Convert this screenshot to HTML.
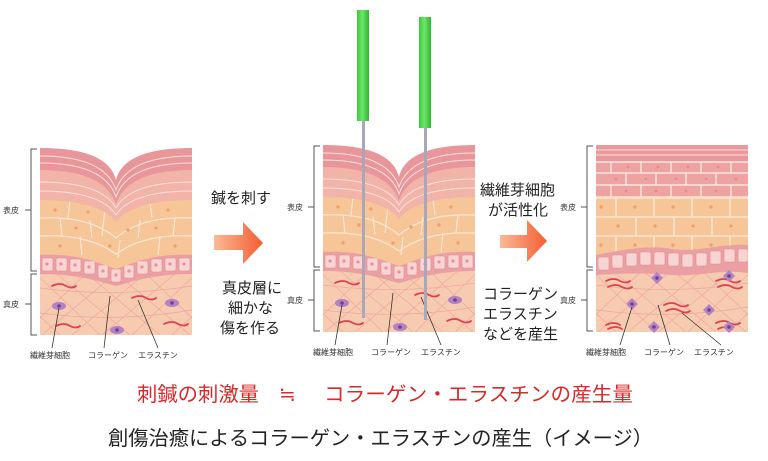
<!DOCTYPE html>
<html><head><meta charset="utf-8"><style>
html,body{margin:0;padding:0;background:#fff;}
svg{display:block;}
text{font-family:"Liberation Sans","Noto Sans CJK JP",sans-serif;}
</style></head><body>
<svg width="768" height="461" viewBox="0 0 768 461" xmlns="http://www.w3.org/2000/svg">
<defs>
<linearGradient id="ar" x1="0" x2="1" y1="0" y2="0"><stop offset="0" stop-color="#fbb995"/><stop offset="1" stop-color="#f45d33"/></linearGradient>
<linearGradient id="gn" x1="0" x2="1"><stop offset="0" stop-color="#3cc83c"/><stop offset="0.45" stop-color="#6ee66a"/><stop offset="1" stop-color="#2fb52f"/></linearGradient>
<clipPath id="cp"><rect x="0" y="0" width="152" height="187"/></clipPath>
<g id="dermis">
 <rect x="0" y="110" width="152" height="77" fill="#f6cbb0"/>
 <g stroke="#ee9da0" stroke-width="0.7" fill="none" opacity="0.8">
  <path d="M-10,120 L60,187 M10,120 L90,187 M40,120 L120,187 M70,120 L150,187 M100,120 L170,187 M-20,150 L20,187"/>
  <path d="M162,120 L92,187 M142,120 L62,187 M112,120 L32,187 M82,120 L2,187 M52,120 L-18,187 M172,150 L132,187"/>
  <path d="M0,140 Q76,150 152,138 M0,165 Q76,175 152,162"/>
 </g>
</g>
<g id="vpanel">
 <g clip-path="url(#cp)">
 <use href="#dermis"/>
 <path d="M0,126 C40,126 60,134 76,138 C92,134 112,126 152,126 L152,0 L0,0Z" fill="#ea9fa3"/>
 <g fill="#f8d4d2" stroke="#e48c92" stroke-width="0.6">
  <rect x="2" y="110" width="11" height="13" rx="2"/><rect x="16" y="110" width="11" height="13" rx="2"/><rect x="30" y="111" width="11" height="13" rx="2"/><rect x="44" y="113" width="11" height="13" rx="2"/><rect x="58" y="117" width="10" height="13" rx="2"/><rect x="71" y="121" width="10" height="13" rx="2"/><rect x="84" y="117" width="10" height="13" rx="2"/><rect x="97" y="113" width="11" height="13" rx="2"/><rect x="111" y="111" width="11" height="13" rx="2"/><rect x="125" y="110" width="11" height="13" rx="2"/><rect x="139" y="110" width="11" height="13" rx="2"/>
 </g>
 <g fill="#ec8f9c"><circle cx="7" cy="116" r="1.6"/><circle cx="21" cy="116" r="1.6"/><circle cx="35" cy="117" r="1.6"/><circle cx="49" cy="119" r="1.6"/><circle cx="63" cy="123" r="1.6"/><circle cx="76" cy="127" r="1.6"/><circle cx="89" cy="123" r="1.6"/><circle cx="102" cy="119" r="1.6"/><circle cx="116" cy="117" r="1.6"/><circle cx="130" cy="116" r="1.6"/><circle cx="144" cy="116" r="1.6"/></g>
 <path d="M0,107 C40,105 60,116 76,121 C92,116 112,105 152,107 L152,0 L0,0Z" fill="#f6c598"/>
 <g stroke="#fbe6d3" stroke-width="1.2" fill="none">
  <path d="M0,70 C40,68 62,78 76,90 C90,78 112,68 152,70"/>
  <path d="M0,88 C40,86 62,96 76,106 C90,96 112,86 152,88"/>
  <path d="M30,52 L28,70 M65,60 L62,88 M110,54 L112,70 M20,70 L22,88 M50,72 L52,90 M100,72 L98,90 M135,70 L133,88 M40,88 L42,107 M80,92 L78,110 M120,88 L118,107"/>
 </g>
 <g fill="#ef9e6e"><circle cx="15" cy="62" r="1.6"/><circle cx="48" cy="64" r="1.6"/><circle cx="128" cy="62" r="1.6"/><circle cx="36" cy="80" r="1.6"/><circle cx="116" cy="80" r="1.6"/><circle cx="70" cy="98" r="1.6"/><circle cx="20" cy="98" r="1.6"/><circle cx="135" cy="98" r="1.6"/><circle cx="88" cy="82" r="1.6"/></g>
 <path d="M0,52 C40,52 66,60 76,74 C86,60 112,52 152,52 L152,0 L0,0Z" fill="#f2b3a8"/>
 <path d="M0,22 C40,22 68,32 76,56 C84,32 112,22 152,22 L152,0 L0,0Z" fill="#e9969a"/>
 <g stroke="#fbe1dc" stroke-width="1" fill="none">
  <path d="M0,8 C40,8 68,18 76,42 C84,18 112,8 152,8"/>
  <path d="M0,15 C40,15 68,25 76,49 C84,25 112,15 152,15"/>
  <path d="M0,34 C40,34 66,42 76,60 C86,42 112,34 152,34"/>
  <path d="M0,43 C40,43 66,51 76,67 C86,51 112,43 152,43"/>
 </g>
 <path d="M0,0 C40,0 70,8 76,32 C82,8 112,0 152,0 L152,-5 L0,-5Z" fill="#fff"/>
 </g>
 <g fill="none" stroke="#e0404e" stroke-width="1.8" stroke-linecap="round">
  <path d="M12,138 q8,-4 14,0 q6,3 10,0"/><path d="M92,150 q8,-4 14,0 q6,3 10,0"/><path d="M16,178 q8,-4 14,0 q6,3 10,0"/><path d="M124,176 q8,-4 14,0 q6,3 10,0"/>
 </g>
 <g fill="#b283c4"><ellipse cx="19" cy="158" rx="7" ry="4"/><ellipse cx="132" cy="155" rx="7" ry="4"/><ellipse cx="77" cy="182" rx="7" ry="4"/></g>
 <g fill="#7a3d8c"><circle cx="19" cy="158" r="1.8"/><circle cx="132" cy="155" r="1.8"/><circle cx="77" cy="182" r="1.8"/></g>
 <g stroke="#333" stroke-width="0.8" fill="none"><path d="M19,160 L12,200 M70,148 L64,200 M98,152 L118,200"/></g>
</g>
</defs>

<g stroke="#555" stroke-width="1" fill="none">
 <path d="M37,149 H31 V271 H37 M31,210 H25 M37,274 H31 V335 H37 M31,304 H25"/>
 <path d="M320,146 H314 V267 H320 M314,207 H308 M320,270 H314 V331 H320 M314,300 H308"/>
 <path d="M593,146 H587 V267 H593 M587,207 H581 M593,270 H587 V331 H593 M587,300 H581"/>
</g>
<g font-size="8" fill="#333">
 <text x="3" y="213">表皮</text><text x="3" y="307">真皮</text>
 <text x="287" y="210">表皮</text><text x="287" y="303">真皮</text>
 <text x="560" y="210">表皮</text><text x="560" y="303">真皮</text>
</g>

<g transform="translate(40,148)"><use href="#vpanel"/></g>
<g transform="translate(323,145)"><use href="#vpanel"/></g>
<g font-size="8" fill="#333">
 <text x="30" y="358">繊維芽細胞</text><text x="88" y="358">コラーゲン</text><text x="138" y="358">エラスチン</text>
 <text x="313" y="355">繊維芽細胞</text><text x="371" y="355">コラーゲン</text><text x="421" y="355">エラスチン</text>
 <text x="586" y="355">繊維芽細胞</text><text x="644" y="355">コラーゲン</text><text x="694" y="355">エラスチン</text>
</g>

<rect x="362" y="118" width="3" height="200" fill="#a8a8b8"/>
<rect x="424" y="125" width="3" height="195" fill="#a8a8b8"/>
<rect x="357" y="10" width="12" height="111" fill="url(#gn)"/>
<rect x="419" y="17" width="12" height="111" fill="url(#gn)"/>

<g transform="translate(596,145)">
 <g clip-path="url(#cp)">
 <use href="#dermis"/>
 <rect x="0" y="0" width="152" height="16" fill="#e9989b"/>
 <g stroke="#fbe1dc" stroke-width="1"><path d="M0,5 H152 M0,10 H152"/></g>
 <rect x="0" y="16" width="152" height="36" fill="#eea3a2"/>
 <g stroke="#fbe4df" stroke-width="1.5"><path d="M0,17 H152 M0,28 H152 M0,40 H152 M0,52 H152"/>
  <path d="M15,17 V28 M45,17 V28 M75,17 V28 M105,17 V28 M135,17 V28 M30,28 V40 M60,28 V40 M90,28 V40 M120,28 V40 M15,40 V52 M45,40 V52 M75,40 V52 M105,40 V52 M135,40 V52"/></g>
 <rect x="0" y="52" width="152" height="60" fill="#f6c598"/>
 <g stroke="#fbe6d3" stroke-width="1.5"><path d="M0,53 H152 M0,72 H152 M0,91 H152"/>
  <path d="M20,53 V72 M58,53 V72 M96,53 V72 M134,53 V72 M40,72 V91 M78,72 V91 M116,72 V91 M20,91 V110 M58,91 V110 M96,91 V110 M134,91 V110"/></g>
 <g fill="#ef9e6e"><circle cx="5" cy="62" r="1.6"/><circle cx="39" cy="62" r="1.6"/><circle cx="77" cy="62" r="1.6"/><circle cx="115" cy="62" r="1.6"/><circle cx="22" cy="81" r="1.6"/><circle cx="59" cy="81" r="1.6"/><circle cx="97" cy="81" r="1.6"/><circle cx="135" cy="81" r="1.6"/><circle cx="5" cy="100" r="1.6"/><circle cx="39" cy="100" r="1.6"/><circle cx="77" cy="100" r="1.6"/><circle cx="115" cy="100" r="1.6"/></g>
 <g fill="#e38b92"><circle cx="20" cy="34" r="1.4"/><circle cx="50" cy="34" r="1.4"/><circle cx="80" cy="34" r="1.4"/><circle cx="110" cy="34" r="1.4"/><circle cx="140" cy="34" r="1.4"/><circle cx="30" cy="46" r="1.4"/><circle cx="60" cy="46" r="1.4"/><circle cx="90" cy="46" r="1.4"/><circle cx="120" cy="46" r="1.4"/><circle cx="32" cy="22" r="1.4"/><circle cx="62" cy="22" r="1.4"/><circle cx="92" cy="22" r="1.4"/><circle cx="122" cy="22" r="1.4"/></g>
 <path d="M0,110 C30,104 55,100 76,104 C100,108 125,98 152,100 L152,128 C125,124 100,132 76,130 C55,128 30,128 0,130Z" fill="#ea9fa3"/>
 <g fill="#f8d4d2" stroke="#e48c92" stroke-width="0.6">
  <rect x="2" y="112" width="11" height="13" rx="2"/><rect x="16" y="110" width="11" height="13" rx="2"/><rect x="30" y="108" width="11" height="13" rx="2"/><rect x="44" y="107" width="11" height="13" rx="2"/><rect x="58" y="107" width="11" height="13" rx="2"/><rect x="72" y="108" width="11" height="13" rx="2"/><rect x="86" y="109" width="11" height="13" rx="2"/><rect x="100" y="108" width="11" height="13" rx="2"/><rect x="114" y="106" width="11" height="13" rx="2"/><rect x="128" y="104" width="11" height="13" rx="2"/><rect x="142" y="104" width="10" height="13" rx="2"/>
 </g>
 </g>
 <g fill="none" stroke="#e0404e" stroke-width="1.8" stroke-linecap="round">
  <path d="M10,136 q8,-4 14,0 q6,3 10,0 M12,142 q8,-4 14,0 q6,3 10,0"/>
  <path d="M120,136 q8,-4 14,0 q6,3 10,0 M122,142 q8,-4 14,0 q6,3 10,0"/>
  <path d="M68,160 q8,-4 14,0 q6,3 10,0 M70,166 q8,-4 14,0 q6,3 10,0"/>
  <path d="M10,180 q8,-4 14,0 M12,184 q8,-4 14,0 M120,178 q8,-4 14,0 q6,3 10,0 M122,184 q8,-4 14,0"/>
 </g>
 <g fill="#b283c4"><path d="M55,133 l6,-6 l6,6 l-6,6z"/><path d="M127,131 l6,-6 l6,6 l-6,6z"/><path d="M30,159 l6,-6 l6,6 l-6,6z"/><path d="M107,165 l6,-6 l6,6 l-6,6z"/><path d="M52,182 l6,-6 l6,6 l-6,6z"/><path d="M127,182 l6,-6 l6,6 l-6,6z"/></g>
 <g fill="#7a3d8c"><circle cx="61" cy="133" r="1.8"/><circle cx="133" cy="131" r="1.8"/><circle cx="36" cy="159" r="1.8"/><circle cx="113" cy="165" r="1.8"/><circle cx="58" cy="182" r="1.8"/><circle cx="133" cy="182" r="1.8"/></g>
 <g stroke="#333" stroke-width="0.8" fill="none"><path d="M36,162 L24,200 M62,160 L74,200 M86,168 L125,200"/></g>
</g>

<path d="M214,235 H243 V222 L263,243 L243,264 V250 H214Z" fill="url(#ar)"/>
<path d="M500,235 H527 V220 L547,241 L527,262 V248 H500Z" fill="url(#ar)"/>

<g font-size="15" fill="#222">
 <text x="211" y="203">鍼を刺す</text>
 <text x="222" y="293">真皮層に</text>
 <text x="228" y="313">細かな</text>
 <text x="220" y="333">傷を作る</text>
 <text x="480" y="195">繊維芽細胞</text>
 <text x="488" y="215">が活性化</text>
 <text x="483" y="299">コラーゲン</text>
 <text x="483" y="319">エラスチン</text>
 <text x="483" y="339">などを産生</text>
</g>

<g font-size="20" fill="#d82828">
 <text x="137" y="401" textLength="122" lengthAdjust="spacingAndGlyphs">刺鍼の刺激量</text>
 <text x="279" y="401">≒</text>
 <text x="324" y="401" textLength="309" lengthAdjust="spacingAndGlyphs">コラーゲン・エラスチンの産生量</text>
</g>
<text x="108" y="445" font-size="20" fill="#222" textLength="545" lengthAdjust="spacingAndGlyphs">創傷治癒によるコラーゲン・エラスチンの産生（イメージ）</text>
</svg>
</body></html>
